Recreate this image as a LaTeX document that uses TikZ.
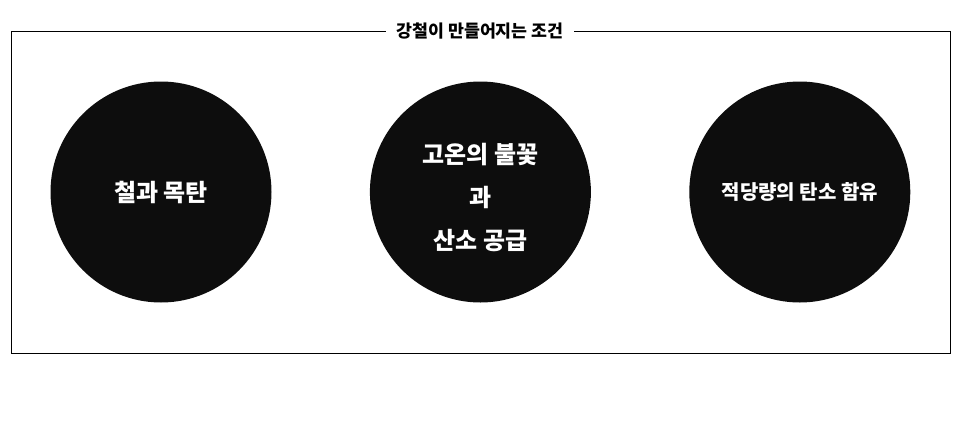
\documentclass[tikz,border=0pt]{standalone}
\usepackage{fontspec}
\newfontfamily\cjk{Noto Sans CJK KR}
\usetikzlibrary{positioning}
\definecolor{blob}{HTML}{0D0D0D}
\tikzset{
	frame/.style={draw=black, line width=0.8pt},
	caption/.style={fill=white, inner xsep=10pt, font=\cjk\bfseries\fontsize{17.3}{20}\selectfont},
	blobnode/.style={circle, fill=blob, text=white, minimum size=221pt, inner sep=0pt, align=center, font=\cjk\bfseries\fontsize{24}{43}\selectfont}
}

\begin{document}
\begin{tikzpicture}[x=1pt, y=-1pt]
    \useasboundingbox (0,0) rectangle (962,421);
    % Frame
    \draw[frame] (11,31) rectangle (950,353);
    \node[caption] (title) at (480,31) {강철이 만들어지는 조건};
    % Circles
    \node[blobnode] (iron) at (161,192) {철과 목탄};
    \node[blobnode, right=98pt of iron] (fire) {\raisebox{-6pt}[\height][\depth]{\begin{tabular}{@{}c@{}}고온의 불꽃\\과\\산소 공급\end{tabular}}};
    \node[blobnode, right=98pt of fire, font=\cjk\bfseries\fontsize{20}{24}\selectfont] (carbon) {적당량의 탄소 함유};
\end{tikzpicture}
\end{document}
